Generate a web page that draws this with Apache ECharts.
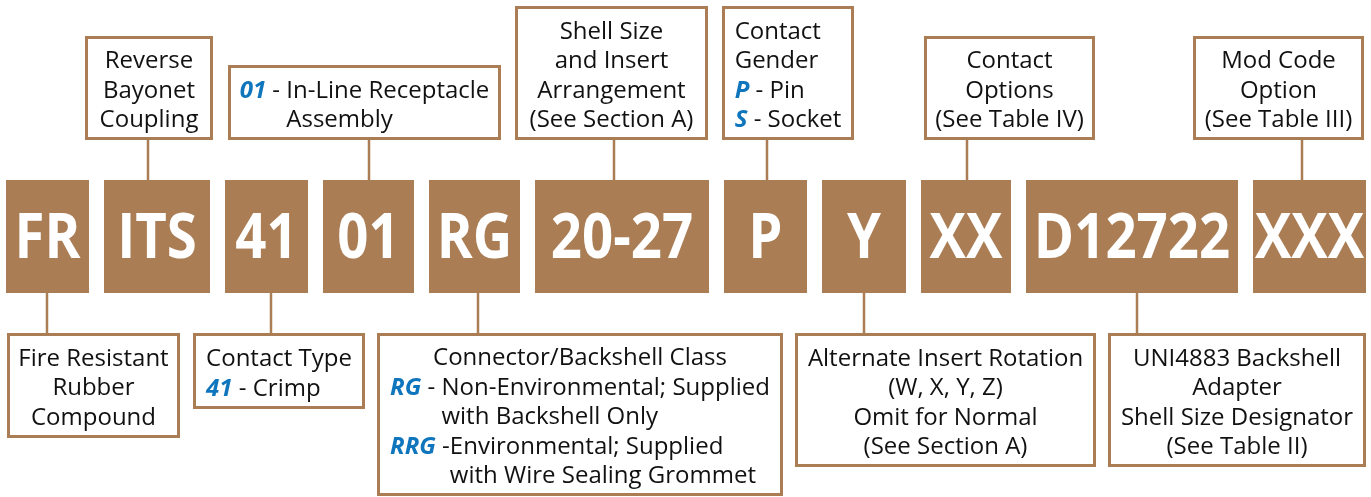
<!DOCTYPE html>
<html>
<head>
<meta charset="utf-8">
<title>Part number breakdown</title>
<script src="https://cdn.jsdelivr.net/npm/echarts@6/dist/echarts.min.js"></script>
<style>
  html, body { margin: 0; padding: 0; background: #fff; }
  #chart { width: 1371px; height: 497px; }
</style>
</head>
<body>
<div id="chart"></div>
<script>
// part number segments, left to right
var codes = ['FR', 'ITS', '41', '01', 'RG', '20-27', 'P', 'Y', 'XX', 'D12722', 'XXX'];

// notes above the row ({k|} blue key, {l|} left aligned, {kh|}/{h|} hidden spacer for hanging indent)
var topNotes = [
  ['Reverse', 'Bayonet', 'Coupling'],
  ['{k|01} - In-Line Receptacle', '{kh|01}{h| - }{l|Assembly}'],
  ['Shell Size', 'and Insert', 'Arrangement', '(See Section A)'],
  ['{l|Contact}', '{l|Gender}', '{kl|P}{l| - Pin}', '{kl|S}{l| - Socket}'],
  ['Contact', 'Options', '(See Table IV)'],
  ['Mod Code', 'Option', '(See Table III)']
];

// notes below the row
var bottomNotes = [
  ['Fire Resistant', 'Rubber', 'Compound'],
  ['{l|Contact Type}', '{kl|41}{l| - Crimp}'],
  ['Connector/Backshell Class',
   '{kl|RG}{l| - Non-Environmental; Supplied}',
   '{kh|RG}{h| - }{l|with Backshell Only}',
   '{kl|RRG}{l| -Environmental; Supplied}',
   '{kh|RRG}{h| -}{l|with Wire Sealing Grommet}'],
  ['Alternate Insert Rotation', '(W, X, Y, Z)', 'Omit for Normal', '(See Section A)'],
  ['UNI4883 Backshell', 'Adapter', 'Shell Size Designator', '(See Table II)']
];

// layout (page units, y downwards)
var codeSpans = [[6, 89], [104, 210], [225, 308], [323, 414], [429, 520], [535, 709],
                 [724, 807], [822, 906], [921, 1011], [1026, 1238], [1253, 1366]];
var codeRow = [180, 293];
var topBoxes = [[85, 36, 213, 140], [228, 65, 501, 140], [515, 6, 708, 140],
                [722, 6, 854, 140], [924, 36, 1095, 140], [1193, 36, 1364, 140]];
var topLinks = [148, 369, 614, 767, 967, 1302];
var bottomBoxes = [[7, 333, 180, 438], [193, 333, 365, 409], [377, 333, 783, 496],
                   [795, 333, 1096, 467], [1108, 333, 1366, 467]];
var bottomLinks = [47, 271, 478, 864, 1137];

var brown = '#aa7d54';
var ink = '#111';
var blue = '#0f75bd';
var noteFont = '24px "Open Sans"';
var keyFont = 'italic bold 24px "Open Sans"';
var lh = 29.5;

var rich = {
  k: { font: keyFont, fill: blue, lineHeight: lh },
  kl: { font: keyFont, fill: blue, align: 'left', lineHeight: lh },
  kh: { font: keyFont, fill: 'transparent', align: 'left', lineHeight: lh },
  l: { font: noteFont, fill: ink, align: 'left', lineHeight: lh },
  h: { font: noteFont, fill: 'transparent', align: 'left', lineHeight: lh }
};

function renderCode(params, api) {
  var i = api.value(4);
  var a = api.coord([api.value(0), api.value(1)]);
  var b = api.coord([api.value(2), api.value(3)]);
  return {
    type: 'group',
    children: [
      { type: 'rect', shape: { x: a[0], y: a[1], width: b[0] - a[0], height: b[1] - a[1] },
        style: { fill: brown } },
      { type: 'text', x: (a[0] + b[0]) / 2, y: (a[1] + b[1]) / 2 + 4, scaleX: 0.88,
        style: { text: codes[i], fill: '#fff', font: 'bold 62px "Open Sans"',
                 align: 'center', verticalAlign: 'middle' } }
    ]
  };
}

function noteRenderer(notes, isTop) {
  return function (params, api) {
    var i = api.value(5);
    var a = api.coord([api.value(0), api.value(1)]);
    var b = api.coord([api.value(2), api.value(3)]);
    var lx = api.coord([api.value(4), 0])[0];
    var y0 = isTop ? b[1] : api.coord([0, codeRow[1]])[1];
    var y1 = isTop ? api.coord([0, codeRow[0]])[1] : a[1];
    return {
      type: 'group',
      children: [
        { type: 'line', shape: { x1: lx, y1: y0, x2: lx, y2: y1 },
          style: { stroke: brown, lineWidth: 2.5 } },
        { type: 'rect', shape: { x: a[0] + 1.5, y: a[1] + 1.5, width: b[0] - a[0] - 3, height: b[1] - a[1] - 3 },
          style: { fill: '#fff', stroke: brown, lineWidth: 3 } },
        { type: 'text', x: (a[0] + b[0]) / 2, y: (a[1] + b[1]) / 2 + 3,
          style: { text: notes[i].join('\n'), font: noteFont, fill: ink, lineHeight: lh,
                   align: 'center', verticalAlign: 'middle', rich: rich } }
      ]
    };
  };
}

var blockData = codes.map(function (c, i) {
  return [codeSpans[i][0], codeRow[0], codeSpans[i][1], codeRow[1], i];
});
var topData = topNotes.map(function (n, i) {
  var b = topBoxes[i];
  return [b[0], b[1], b[2], b[3], topLinks[i], i];
});
var bottomData = bottomNotes.map(function (n, i) {
  var b = bottomBoxes[i];
  return [b[0], b[1], b[2], b[3], bottomLinks[i], i];
});

var chart = echarts.init(document.getElementById('chart'));
var option = {
  backgroundColor: '#fff',
  animation: false,
  grid: { left: 0, right: 0, top: 0, bottom: 0 },
  xAxis: { type: 'value', min: 0, max: 1371, show: false },
  yAxis: { type: 'value', min: 0, max: 497, inverse: true, show: false },
  tooltip: { show: false },
  series: [
    { type: 'custom', renderItem: noteRenderer(topNotes, true), data: topData,
      encode: { x: [0, 2, 4], y: [1, 3] }, clip: false, silent: true },
    { type: 'custom', renderItem: noteRenderer(bottomNotes, false), data: bottomData,
      encode: { x: [0, 2, 4], y: [1, 3] }, clip: false, silent: true },
    { type: 'custom', renderItem: renderCode, data: blockData,
      encode: { x: [0, 2], y: [1, 3] }, clip: false, silent: true }
  ]
};
chart.setOption(option);
window.addEventListener('resize', function () {
  chart.resize();
});
</script>
</body>
</html>
